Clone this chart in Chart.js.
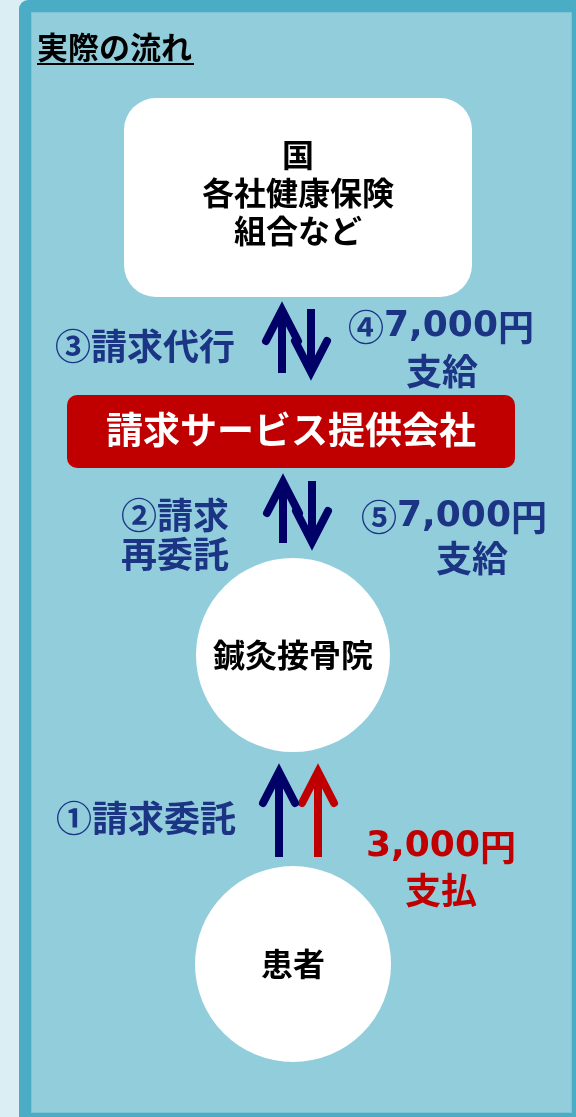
<!DOCTYPE html>
<html>
<head>
<meta charset="utf-8">
<script src="https://cdn.jsdelivr.net/npm/chart.js@4/dist/chart.umd.min.js"></script>
<style>
  body { margin: 0; background: #daeef3; }
  #wrap { width: 576px; height: 1117px; }
</style>
</head>
<body>
<div id="wrap"><canvas id="myChart" width="576" height="1117"></canvas></div>
<script>
// 実際の流れ
var title = '実際の流れ';

// nodes (centres in page units)
var nodeLines = [['国', '各社健康保険', '組合など'], ['請求サービス提供会社'], ['鍼灸接骨院'], ['患者']];
var nodeX = [298, 291, 293, 293];
var nodeY = [193, 430, 655, 964];

// flow labels, one entry per line
var flowText = ['③請求代行', '④7,000円', '支給', '②請求', '再委託', '⑤7,000円', '支給', '①請求委託', '3,000円', '支払'];
var flowX    = [145, 441, 442, 175, 175, 454, 472, 146, 441, 441];
var flowY    = [346, 327, 371, 515, 554, 517, 558, 818, 847, 890];
var flowRed  = [false, false, false, false, false, false, false, false, true, true];

// arrows: shaft x, start y, tip y
var arrowX    = [282, 311, 283, 312, 279, 318];
var arrowFrom = [373, 309, 543, 481, 857, 857];
var arrowTo   = [310, 372, 482, 542, 772, 772];
var arrowRed  = [false, false, false, false, false, true];

var navy = '#000066';
var red = '#c00000';
var textBlue = '#1c3484';
var font = '"Noto Sans CJK JP", "Noto Sans", sans-serif';
var numFont = '"DejaVu Sans", "Noto Sans CJK JP", sans-serif';
var headW = 16, headH = 31;

var datasets = [];
for (var i = 0; i < arrowX.length; i++) {
    var dir = arrowTo[i] < arrowFrom[i] ? 1 : -1;
    var col = arrowRed[i] ? red : navy;
    datasets.push({
        type: 'line',
        data: [{ x: arrowX[i], y: arrowFrom[i] }, { x: arrowX[i], y: arrowTo[i] }],
        borderColor: col, borderWidth: 8, pointRadius: 0, borderCapStyle: 'butt'
    });
    datasets.push({
        type: 'line',
        data: [{ x: arrowX[i] - headW, y: arrowTo[i] + dir * headH }, { x: arrowX[i], y: arrowTo[i] }, { x: arrowX[i] + headW, y: arrowTo[i] + dir * headH }],
        borderColor: col, borderWidth: 8, pointRadius: 0, borderCapStyle: 'round', borderJoinStyle: 'miter'
    });
}
// circle nodes
datasets.push({
    type: 'bubble',
    data: [{ x: nodeX[2], y: nodeY[2], r: 97 }, { x: nodeX[3], y: nodeY[3], r: 98 }],
    backgroundColor: '#ffffff', borderWidth: 0
});

function roundRect(ctx, x, y, w, h, r) {
    ctx.beginPath();
    ctx.moveTo(x + r, y);
    ctx.arcTo(x + w, y, x + w, y + h, r);
    ctx.arcTo(x + w, y + h, x, y + h, r);
    ctx.arcTo(x, y + h, x, y, r);
    ctx.arcTo(x, y, x + w, y, r);
    ctx.closePath();
}

// draw centred text, digits and commas in a wider latin face
function mixedText(ctx, text, cx, cy, size) {
    var runs = [];
    for (var i = 0; i < text.length; i++) {
        var isNum = /[0-9,]/.test(text[i]);
        if (runs.length && runs[runs.length - 1].num == isNum) runs[runs.length - 1].s += text[i];
        else runs.push({ s: text[i], num: isNum });
    }
    var total = 0;
    runs.forEach(function (r) {
        ctx.font = 'bold ' + size + 'px ' + (r.num ? numFont : font);
        r.w = ctx.measureText(r.s).width;
        total += r.w;
    });
    var x = cx - total / 2;
    ctx.textAlign = 'left';
    runs.forEach(function (r) {
        ctx.font = 'bold ' + size + 'px ' + (r.num ? numFont : font);
        ctx.fillText(r.s, x, cy);
        x += r.w;
    });
}

var diagramPlugin = {
    id: 'diagram',
    beforeDraw: function (chart) {
        var ctx = chart.ctx;
        var sx = chart.scales.x, sy = chart.scales.y;
        ctx.save();
        ctx.fillStyle = '#daeef3';
        ctx.fillRect(0, 0, chart.width, chart.height);
        // panel with border
        ctx.fillStyle = '#4bacc6';
        roundRect(ctx, sx.getPixelForValue(19), sy.getPixelForValue(0), 580, 1130, 9);
        ctx.fill();
        ctx.fillStyle = '#7fc2d6';
        ctx.fillRect(sx.getPixelForValue(31), sy.getPixelForValue(12), 541, 1101);
        ctx.fillStyle = '#92cddc';
        ctx.fillRect(sx.getPixelForValue(32), sy.getPixelForValue(13), 539, 1099);
        // title
        ctx.fillStyle = '#000000';
        ctx.font = 'bold 31px ' + font;
        ctx.textBaseline = 'middle';
        ctx.textAlign = 'left';
        ctx.fillText(title, sx.getPixelForValue(37), sy.getPixelForValue(47));
        var tw = ctx.measureText(title).width;
        ctx.fillRect(sx.getPixelForValue(37), sy.getPixelForValue(63), tw + 2, 2);
        ctx.restore();
    },
    beforeDatasetsDraw: function (chart) {
        var ctx = chart.ctx;
        var sx = chart.scales.x, sy = chart.scales.y;
        ctx.save();
        ctx.fillStyle = '#ffffff';
        roundRect(ctx, sx.getPixelForValue(nodeX[0] - 174), sy.getPixelForValue(nodeY[0] - 95), 348, 199, 32);
        ctx.fill();
        ctx.fillStyle = red;
        roundRect(ctx, sx.getPixelForValue(nodeX[1] - 224), sy.getPixelForValue(nodeY[1] - 35), 448, 73, 10);
        ctx.fill();
        ctx.restore();
    },
    afterDatasetsDraw: function (chart) {
        var ctx = chart.ctx;
        var sx = chart.scales.x, sy = chart.scales.y;
        ctx.save();
        ctx.textAlign = 'center';
        ctx.textBaseline = 'middle';
        // node texts
        var sizes = [32, 37, 32, 32];
        for (var i = 0; i < nodeLines.length; i++) {
            ctx.font = 'bold ' + sizes[i] + 'px ' + font;
            ctx.fillStyle = i == 1 ? '#ffffff' : '#000000';
            var n = nodeLines[i].length;
            for (var j = 0; j < n; j++) {
                var yy = nodeY[i] + (j - (n - 1) / 2) * 38;
                ctx.fillText(nodeLines[i][j], sx.getPixelForValue(nodeX[i]), sy.getPixelForValue(yy));
            }
        }
        // flow labels
        for (var k = 0; k < flowText.length; k++) {
            ctx.fillStyle = flowRed[k] ? red : textBlue;
            mixedText(ctx, flowText[k], sx.getPixelForValue(flowX[k]), sy.getPixelForValue(flowY[k]), 36);
        }
        ctx.restore();
    }
};

var ctx = document.getElementById('myChart');
var myChart = new Chart(ctx, {
    type: 'scatter',
    data: { datasets: datasets },
    options: {
        responsive: false,
        devicePixelRatio: 1,
        animation: false,
        layout: { padding: 0, autoPadding: false },
        scales: {
            x: { type: 'linear', min: 0, max: 576, display: false },
            y: { type: 'linear', min: 0, max: 1117, reverse: true, display: false }
        },
        plugins: { legend: { display: false }, tooltip: { enabled: false } }
    },
    plugins: [diagramPlugin]
});
</script>
</body>
</html>
